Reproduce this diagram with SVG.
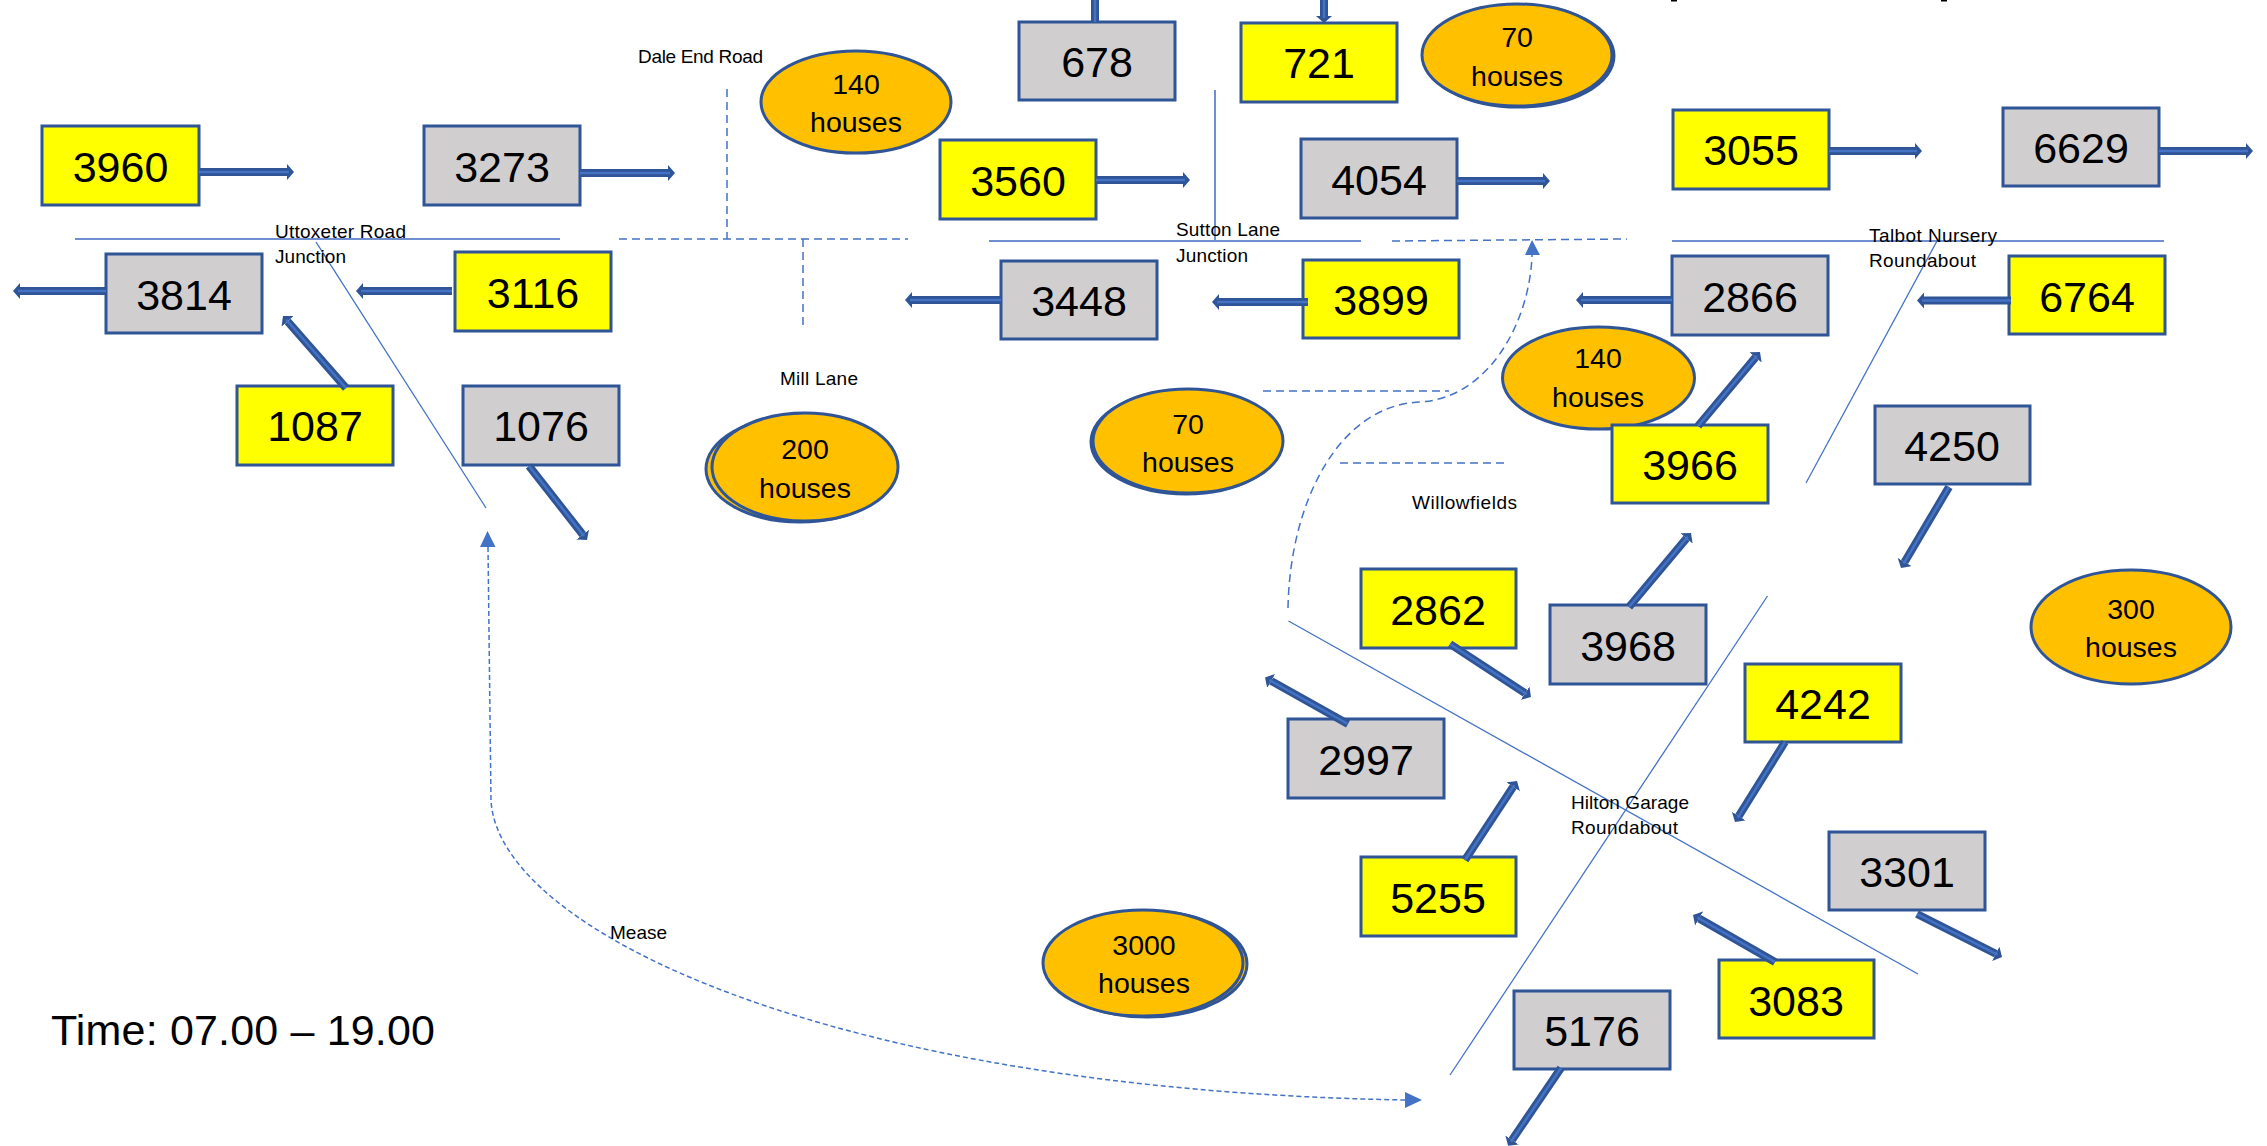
<svg xmlns="http://www.w3.org/2000/svg" width="2267" height="1146" viewBox="0 0 2267 1146">
<style>
text{font-family:"Liberation Sans",Arial,sans-serif;fill:#000}
.n{font-size:43px;text-anchor:middle}
.h{font-size:28.5px;text-anchor:middle}
.l{font-size:19px}
.g{fill:#d0cece;stroke:#2f5597;stroke-width:3}
.y{fill:#ffff00;stroke:#2f5597;stroke-width:3}
.e{fill:#ffc000;stroke:#2f5597;stroke-width:3}
.o{stroke:#2f5597;stroke-width:8;fill:none;marker-end:url(#head)}
.i{stroke:#4472c4;stroke-width:2.5;fill:none}
.s{stroke:#4472c4;stroke-width:1.3;fill:none}
.w{stroke:#6f8fd0;stroke-width:2;fill:none}
.d{stroke:#4472c4;stroke-width:1.5;fill:none;stroke-dasharray:8 5}
.a{fill:#4472c4}
</style>
<defs>
<marker id="head" markerUnits="userSpaceOnUse" viewBox="0 -8 8 16" refX="0" refY="0" markerWidth="8" markerHeight="16" orient="auto"><path d="M0,-8L7,0L0,8z" fill="#2f5597"/></marker>
</defs>
<rect width="2267" height="1146" fill="#fff"/>
<g id="h140a"><ellipse class="e" cx="856" cy="102" rx="95" ry="51"/><text class="h" x="856" y="94">140</text><text class="h" x="856" y="132">houses</text></g>
<g id="h70a"><ellipse class="e" cx="1519" cy="56" rx="95" ry="51"/><ellipse class="e" cx="1517" cy="55" rx="95" ry="51"/><text class="h" x="1517" y="47">70</text><text class="h" x="1517" y="86">houses</text></g>
<g id="h140b"><ellipse class="e" cx="1598.500" cy="378" rx="96" ry="51"/><text class="h" x="1598" y="368">140</text><text class="h" x="1598" y="407">houses</text></g>
<g id="h70b"><ellipse class="e" cx="1186" cy="442" rx="95" ry="52"/><ellipse class="e" cx="1188" cy="441" rx="95" ry="52"/><text class="h" x="1188" y="434">70</text><text class="h" x="1188" y="472">houses</text></g>
<g id="h200"><ellipse class="e" cx="800" cy="469" rx="94" ry="53"/><ellipse class="e" cx="805" cy="467" rx="93" ry="54"/><text class="h" x="805" y="459">200</text><text class="h" x="805" y="498">houses</text></g>
<g id="h300"><ellipse class="e" cx="2131" cy="627" rx="100" ry="57"/><text class="h" x="2131" y="619">300</text><text class="h" x="2131" y="657">houses</text></g>
<g id="h3000"><ellipse class="e" cx="1147" cy="964" rx="100" ry="53"/><ellipse class="e" cx="1143" cy="963" rx="100" ry="53"/><text class="h" x="1144" y="955">3000</text><text class="h" x="1144" y="993">houses</text></g>
<g id="n3960"><rect class="y" x="42" y="126" width="157" height="79"/><text class="n" x="120.500" y="182">3960</text></g>
<g id="n3273"><rect class="g" x="424" y="126" width="156" height="79"/><text class="n" x="502" y="182">3273</text></g>
<g id="n3814"><rect class="g" x="106" y="254" width="156" height="79"/><text class="n" x="184" y="310">3814</text></g>
<g id="n3116"><rect class="y" x="455" y="252" width="156" height="79"/><text class="n" x="533" y="308">3116</text></g>
<g id="n1087"><rect class="y" x="237" y="386" width="156" height="79"/><text class="n" x="315" y="441">1087</text></g>
<g id="n1076"><rect class="g" x="463" y="386" width="156" height="79"/><text class="n" x="541" y="441">1076</text></g>
<g id="n678"><rect class="g" x="1019" y="22" width="156" height="78"/><text class="n" x="1097" y="77">678</text></g>
<g id="n721"><rect class="y" x="1241" y="23" width="156" height="79"/><text class="n" x="1319" y="78">721</text></g>
<g id="n3560"><rect class="y" x="940" y="140" width="156" height="79"/><text class="n" x="1018" y="196">3560</text></g>
<g id="n4054"><rect class="g" x="1301" y="139" width="156" height="79"/><text class="n" x="1379" y="195">4054</text></g>
<g id="n3448"><rect class="g" x="1001" y="261" width="156" height="78"/><text class="n" x="1079" y="316">3448</text></g>
<g id="n3899"><rect class="y" x="1303" y="260" width="156" height="78"/><text class="n" x="1381" y="315">3899</text></g>
<g id="n3055"><rect class="y" x="1673" y="110" width="156" height="79"/><text class="n" x="1751" y="165">3055</text></g>
<g id="n6629"><rect class="g" x="2003" y="108" width="156" height="78"/><text class="n" x="2081" y="163">6629</text></g>
<g id="n2866"><rect class="g" x="1672" y="256" width="156" height="79"/><text class="n" x="1750" y="312">2866</text></g>
<g id="n6764"><rect class="y" x="2009" y="256" width="156" height="78"/><text class="n" x="2087" y="312">6764</text></g>
<g id="n3966"><rect class="y" x="1612" y="425" width="156" height="78"/><text class="n" x="1690" y="480">3966</text></g>
<g id="n3968"><rect class="g" x="1550" y="605" width="156" height="79"/><text class="n" x="1628" y="661">3968</text></g>
<g id="n4250"><rect class="g" x="1875" y="406" width="155" height="78"/><text class="n" x="1952" y="461">4250</text></g>
<g id="n2862"><rect class="y" x="1361" y="569" width="155" height="79"/><text class="n" x="1438" y="625">2862</text></g>
<g id="n2997"><rect class="g" x="1288" y="719" width="156" height="79"/><text class="n" x="1366" y="775">2997</text></g>
<g id="n4242"><rect class="y" x="1745" y="664" width="156" height="78"/><text class="n" x="1823" y="719">4242</text></g>
<g id="n5255"><rect class="y" x="1361" y="857" width="155" height="79"/><text class="n" x="1438" y="913">5255</text></g>
<g id="n3301"><rect class="g" x="1829" y="832" width="156" height="78"/><text class="n" x="1907" y="887">3301</text></g>
<g id="n3083"><rect class="y" x="1719" y="960" width="155" height="78"/><text class="n" x="1796" y="1016">3083</text></g>
<g id="n5176"><rect class="g" x="1514" y="991" width="156" height="78"/><text class="n" x="1592" y="1046">5176</text></g>
<g id="connectors">
<line class="w" x1="75" y1="239" x2="560" y2="239"/>
<line class="s" x1="316" y1="242" x2="486" y2="508"/>
<line class="d" x1="619" y1="239" x2="908" y2="239"/>
<line class="d" x1="727" y1="89" x2="727" y2="239"/>
<line class="d" x1="803" y1="239" x2="803" y2="330"/>
<line class="w" x1="989" y1="241" x2="1361" y2="241"/>
<line class="w" x1="1215" y1="90" x2="1215" y2="241"/>
<line class="d" x1="1392" y1="241" x2="1627" y2="239"/>
<line class="w" x1="1672" y1="241" x2="2164" y2="241"/>
<line class="s" x1="1937" y1="241" x2="1806" y2="483"/>
<line class="d" x1="1263" y1="391" x2="1449" y2="391"/>
<line class="d" x1="1340" y1="463" x2="1504" y2="463"/>
<path class="d" d="M1288,608C1290,500 1340,405 1420,402C1490,398 1530,320 1532,255"/>
<path class="a" d="M1532,240L1540,255L1525,255z"/>
<line class="s" x1="1288.500" y1="621" x2="1918" y2="974"/>
<line class="s" x1="1767.500" y1="596" x2="1450" y2="1075"/>
<path class="d" style="stroke-dasharray:5 3" d="M488,547L491,800C497,930 830,1090 1405,1100"/>
<path class="a" d="M487.500,531L495.500,547L480,547z"/>
<path class="a" d="M1422,1100L1405,1092L1405,1108z"/>
<g id="a3960"><line class="o" x1="199" y1="172" x2="287" y2="172"/><line class="i" x1="199" y1="172" x2="289" y2="172"/></g>
<g id="a3273"><line class="o" x1="580" y1="173" x2="668" y2="173"/><line class="i" x1="580" y1="173" x2="670" y2="173"/></g>
<g id="a3814"><line class="o" x1="106" y1="291" x2="20" y2="291"/><line class="i" x1="106" y1="291" x2="18" y2="291"/></g>
<g id="a3116"><line class="o" x1="452" y1="291" x2="363" y2="291"/><line class="i" x1="452" y1="291" x2="361" y2="291"/></g>
<g id="a1087"><line class="o" x1="346" y1="388" x2="287.600" y2="321.300"/><line class="i" x1="346" y1="388" x2="286.300" y2="319.800"/></g>
<g id="a1076"><line class="o" x1="529" y1="466" x2="582.700" y2="534.500"/><line class="i" x1="529" y1="466" x2="584" y2="536"/></g>
<g id="a678"><line stroke="#2f5597" stroke-width="8" x1="1095" y1="0" x2="1095" y2="22"/><line class="i" x1="1095" y1="0" x2="1095" y2="22"/></g>
<g id="a721"><line class="o" x1="1324" y1="0" x2="1324" y2="16"/><line class="i" x1="1324" y1="0" x2="1324" y2="18"/></g>
<g id="a3560"><line class="o" x1="1096" y1="180" x2="1183" y2="180"/><line class="i" x1="1096" y1="180" x2="1185" y2="180"/></g>
<g id="a4054"><line class="o" x1="1457" y1="181" x2="1543" y2="181"/><line class="i" x1="1457" y1="181" x2="1545" y2="181"/></g>
<g id="a3448"><line class="o" x1="1001" y1="300" x2="912" y2="300"/><line class="i" x1="1001" y1="300" x2="910" y2="300"/></g>
<g id="a3899"><line class="o" x1="1308" y1="302" x2="1219" y2="302"/><line class="i" x1="1308" y1="302" x2="1217" y2="302"/></g>
<g id="a3055"><line class="o" x1="1829" y1="151" x2="1915" y2="151"/><line class="i" x1="1829" y1="151" x2="1917" y2="151"/></g>
<g id="a6629"><line class="o" x1="2159" y1="151" x2="2246" y2="151"/><line class="i" x1="2159" y1="151" x2="2248" y2="151"/></g>
<g id="a2866"><line class="o" x1="1672" y1="300" x2="1583" y2="300"/><line class="i" x1="1672" y1="300" x2="1581" y2="300"/></g>
<g id="a6764"><line class="o" x1="2011" y1="300.500" x2="1924" y2="300.500"/><line class="i" x1="2011" y1="300.500" x2="1922" y2="300.500"/></g>
<g id="a3966"><line class="o" x1="1698" y1="426" x2="1755.500" y2="357.400"/><line class="i" x1="1698" y1="426" x2="1756.800" y2="355.800"/></g>
<g id="a3968"><line class="o" x1="1629" y1="607" x2="1686.500" y2="538.400"/><line class="i" x1="1629" y1="607" x2="1687.800" y2="536.800"/></g>
<g id="a2862"><line class="o" x1="1450" y1="644" x2="1525.100" y2="693.200"/><line class="i" x1="1450" y1="644" x2="1526.800" y2="694.300"/></g>
<g id="a2997"><line class="o" x1="1348" y1="724" x2="1271.100" y2="680.900"/><line class="i" x1="1348" y1="724" x2="1269.400" y2="680"/></g>
<g id="a4242"><line class="o" x1="1785" y1="742" x2="1738.700" y2="816.100"/><line class="i" x1="1785" y1="742" x2="1737.700" y2="817.800"/></g>
<g id="a5255"><line class="o" x1="1465" y1="860" x2="1513.200" y2="786.800"/><line class="i" x1="1465" y1="860" x2="1514.300" y2="785.100"/></g>
<g id="a3301"><line class="o" x1="1917" y1="914" x2="1995.800" y2="953.800"/><line class="i" x1="1917" y1="914" x2="1997.500" y2="954.700"/></g>
<g id="a3083"><line class="o" x1="1775" y1="962" x2="1699.100" y2="918.500"/><line class="i" x1="1775" y1="962" x2="1697.400" y2="917.500"/></g>
<g id="a5176"><line class="o" x1="1561" y1="1068" x2="1512" y2="1140"/><line class="i" x1="1561" y1="1068" x2="1511" y2="1141.600"/></g>
<g id="a4250"><line class="o" x1="1949" y1="487" x2="1904.600" y2="562"/><line class="i" x1="1949" y1="487" x2="1903.600" y2="563.700"/></g>
</g>
<g id="labels">
<text class="l" x="638" y="63" textLength="125">Dale End Road</text>
<text class="l" x="275" y="238" textLength="131">Uttoxeter Road</text>
<text class="l" x="275" y="263" textLength="71">Junction</text>
<text class="l" x="1176" y="236" textLength="104">Sutton Lane</text>
<text class="l" x="1176" y="262" textLength="72">Junction</text>
<text class="l" x="1869" y="242" textLength="128">Talbot Nursery</text>
<text class="l" x="1869" y="267" textLength="107">Roundabout</text>
<text class="l" x="780" y="385" textLength="78">Mill Lane</text>
<text class="l" x="1412" y="509" textLength="105">Willowfields</text>
<text class="l" x="1571" y="809" textLength="118">Hilton Garage</text>
<text class="l" x="1571" y="834" textLength="107">Roundabout</text>
<text class="l" x="610" y="939" textLength="57">Mease</text>
<text x="51" y="1045" font-size="43" textLength="384">Time: 07.00 – 19.00</text>
</g>
<g id="clipped-marks"><rect x="1671" y="0" width="6" height="1.500"/><rect x="1941" y="0" width="6" height="1.500"/></g>
</svg>
